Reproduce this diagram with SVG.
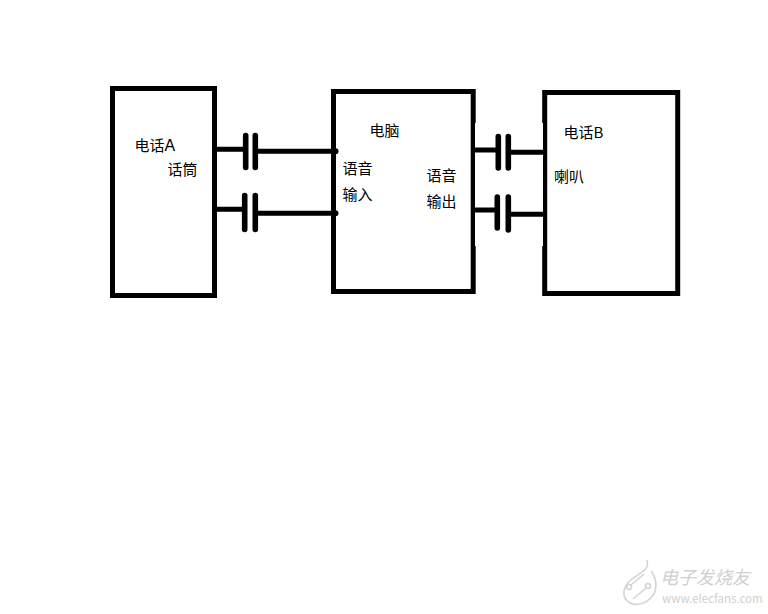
<svg xmlns="http://www.w3.org/2000/svg" width="768" height="614" viewBox="0 0 768 614">
  <style>
    .box { fill: #fff; stroke: #000; stroke-width: 5; }
    .wire { fill: none; stroke: #000; stroke-width: 5; }
    .plate { fill: none; stroke: #000; stroke-width: 5.6; stroke-linecap: round; }
    .label { font-family: "Noto Sans CJK SC", "Liberation Sans", sans-serif; font-size: 15px; fill: #000; }
    .latin { font-family: "Liberation Sans", sans-serif; font-size: 16px; }
    .wm { font-family: "Noto Sans CJK SC", "Liberation Sans", sans-serif; fill: #d0d0d0; }
    .logo { fill: none; stroke: #d4d4d4; stroke-width: 1.6; }
  </style>
  <rect width="768" height="614" fill="#fff"/>

  <g id="phone-a">
    <rect class="box" x="112.5" y="88.5" width="102" height="207"/>
    <text class="label" x="134.5" y="151">电话<tspan class="latin">A</tspan></text>
    <text class="label" x="167.5" y="175">话筒</text>
  </g>

  <g id="computer">
    <rect class="box" x="333.5" y="91.5" width="139.7" height="200"/>
    <!-- the right wall is a pixel thinner between the two notches -->
    <rect x="475" y="123" width="1" height="123" fill="#fff"/>
    <text class="label" x="369.5" y="136">电脑</text>
    <text class="label" x="342.5" y="174">语音</text>
    <text class="label" x="342.5" y="200">输入</text>
    <text class="label" x="426.5" y="181">语音</text>
    <text class="label" x="426.5" y="207">输出</text>
  </g>

  <g id="phone-b">
    <rect class="box" x="544.7" y="92.5" width="133" height="201"/>
    <rect x="542" y="123" width="1" height="123" fill="#fff"/>
    <text class="label" x="563.5" y="138">电话B</text>
    <text class="label" x="554" y="182">喇叭</text>
  </g>

  <g id="connectors">
    <!-- input side coupling capacitors -->
    <path class="wire" d="M216 149.3H245M256 151.3H335"/>
    <path class="plate" d="M245.7 135.5V167.5M255.3 135.5V167.5"/>
    <path class="wire" d="M216 209.3H244M256 213.3H335"/>
    <path class="plate" d="M244.7 195.5V229.5M255.3 195.5V229.5"/>
    <circle cx="335.5" cy="151.3" r="3"/>
    <circle cx="335.5" cy="213.3" r="3"/>
    <!-- output side coupling capacitors -->
    <path class="wire" d="M473 150H498M509 152.3H543"/>
    <path class="plate" d="M498.3 136.5V168M508.3 136.5V168"/>
    <path class="wire" d="M473 210H497M509 214.3H543"/>
    <path class="plate" d="M497.3 197V228M508.3 197V230"/>
  </g>

  <g id="watermark">
    <path class="logo" d="M647 560C650 570 640 573 632 579C622 587 621 598 630 603C641 608 656 599 656 585C656 578 653 574 651 571"/>
    <circle class="logo" cx="629" cy="587" r="2.5"/>
    <circle class="logo" cx="648" cy="586" r="2.5"/>
    <path class="logo" d="M631 585L644 574M646 588L633 599"/>
    <text class="wm" x="660" y="584" font-size="18" font-style="italic">电子发烧友</text>
    <text class="wm" x="662" y="603" font-size="11.5">www.elecfans.com</text>
  </g>
</svg>
